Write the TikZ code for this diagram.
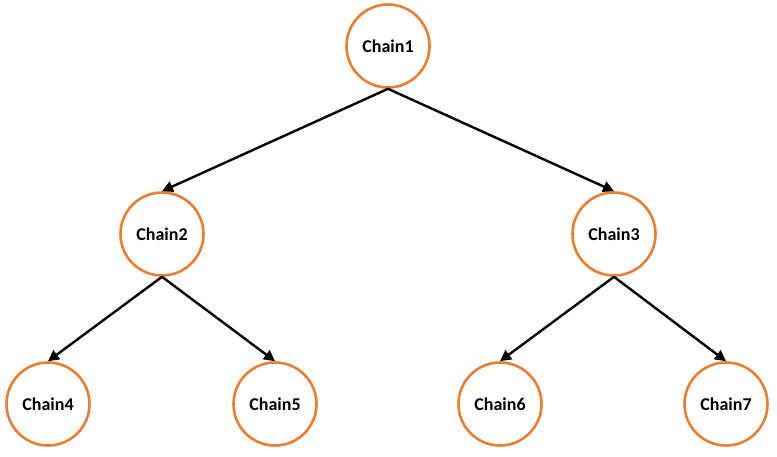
\documentclass[tikz,border=0pt]{standalone}
\usepackage{fontspec}
\setmainfont{Carlito}
\usetikzlibrary{arrows.meta}
\definecolor{chainorange}{RGB}{237,125,49}
\begin{document}
\begin{tikzpicture}[x=1pt,y=-1pt,
  chainnode/.style={circle,draw=chainorange,line width=2.6pt,fill=white,minimum size=83pt,inner sep=0pt,font=\bfseries\fontsize{18}{21}\selectfont},
  link/.style={line width=2.4pt,-{Triangle[length=11pt,width=11pt]}}]
\useasboundingbox (0,0) rectangle (777,456);
\node[chainnode] (c1) at (388,46) {Chain1};
\node[chainnode] (c2) at (162,234) {Chain2};
\node[chainnode] (c3) at (614,234) {Chain3};
\node[chainnode] (c4) at (48,404) {Chain4};
\node[chainnode] (c5) at (275,404) {Chain5};
\node[chainnode] (c6) at (500,404) {Chain6};
\node[chainnode] (c7) at (726,404) {Chain7};
\draw[link] (c1.south) -- (c2.north);
\draw[link] (c1.south) -- (c3.north);
\draw[link] (c2.south) -- (c4.north);
\draw[link] (c2.south) -- (c5.north);
\draw[link] (c3.south) -- (c6.north);
\draw[link] (c3.south) -- (c7.north);
\end{tikzpicture}
\end{document}
